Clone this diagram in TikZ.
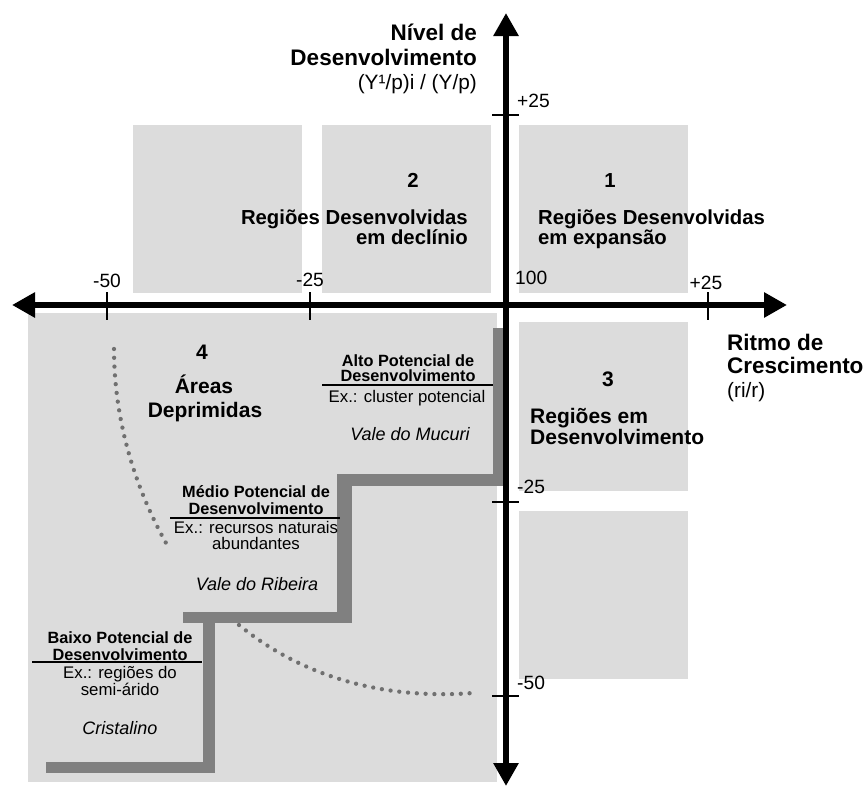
\documentclass[tikz,border=0pt]{standalone}
\usepackage{fontspec}
\setmainfont{Liberation Sans}
\usetikzlibrary{arrows.meta}
\definecolor{boxgrey}{HTML}{DCDCDC}
\definecolor{stairgrey}{HTML}{808080}
\definecolor{dotgrey}{HTML}{707070}
\tikzset{
  big/.style={inner sep=0pt,font=\fontsize{21}{22}\selectfont\bfseries},
  quad/.style={inner sep=0pt,font=\fontsize{20.3}{22}\selectfont\bfseries},
  axt/.style={inner sep=0pt,font=\fontsize{22.5}{24}\selectfont\bfseries},
  axr/.style={inner sep=0pt,font=\fontsize{20.8}{22}\selectfont},
  smb/.style={inner sep=0pt,font=\fontsize{16.3}{17}\selectfont\bfseries},
  sm/.style={inner sep=0pt,font=\fontsize{16.8}{17}\selectfont},
  ital/.style={inner sep=0pt,font=\fontsize{18}{19}\selectfont\itshape},
  ticklab/.style={inner sep=0pt,font=\fontsize{19.2}{20}\selectfont},
  region/.style={fill=boxgrey,draw=none},
  stair/.style={fill=stairgrey,draw=none},
  dotline/.style={draw=dotgrey,line width=4.3pt,line cap=round,dash pattern=on 0pt off 8.8pt},
  axis/.style={line width=6.5pt,{Triangle[length=23pt,width=24pt]}-{Triangle[length=23pt,width=24pt]}},
  tickmark/.style={line width=2pt},
  sepline/.style={line width=1.8pt}
}
\begin{document}
\begin{tikzpicture}[x=1pt,y=-1pt]
\useasboundingbox (0,0) rectangle (864,787);
% grey regions
\path[region] (133,125) rectangle (302,293);
\path[region] (322,125) rectangle (491,293);
\path[region] (519,125) rectangle (688,293);
\path[region] (519,322) rectangle (688,491);
\path[region] (519,511) rectangle (688,679);
\path[region] (28,313) rectangle (497,782);
% staircase
\path[stair] (493,328) rectangle (505,486);
\path[stair] (337,474) rectangle (505,486);
\path[stair] (337,474) rectangle (352,623);
\path[stair] (183,612) rectangle (352,623);
\path[stair] (203,612) rectangle (215,773);
\path[stair] (46,762) rectangle (215,773);
% dotted curves
\coordinate (c1s) at (114,349);
\coordinate (c1e) at (170,550);
\coordinate (c2s) at (239,625);
\coordinate (c2e) at (473,693);
\draw[dotline] (c1s) .. controls (114,420) and (135,490) .. (c1e);
\draw[dotline] (c2s) .. controls (300,675) and (380,700) .. (c2e);
% axes
\coordinate (xl) at (12,305);
\coordinate (xr) at (787,305);
\coordinate (yt) at (506,13);
\coordinate (yb) at (506,786);
\draw[axis] (xl) -- (xr);
\draw[axis] (yb) -- (yt);
% ticks
\draw[tickmark] (107,292) -- (107,320);
\draw[tickmark] (310,292) -- (310,320);
\draw[tickmark] (708,292) -- (708,320);
\draw[tickmark] (492,115) -- (519,115);
\draw[tickmark] (492,502) -- (519,502);
\draw[tickmark] (492,696) -- (519,696);
% tick labels
\node[ticklab,anchor=base] (tm50) at (107,287) {-50};
\node[ticklab,anchor=base] (tm25) at (310,286) {-25};
\node[ticklab,anchor=base] (tp25) at (706,289) {+25};
\node[ticklab,anchor=base west] (t100) at (515,284) {100};
\node[ticklab,anchor=base west] (vp25) at (517,107) {+25};
\node[ticklab,anchor=base west] (vm25) at (517,493) {-25};
\node[ticklab,anchor=base west] (vm50) at (517,689) {-50};
% axis titles
\node[axt,anchor=base east] (yl1) at (477,40) {Nível de};
\node[axt,anchor=base east] (yl2) at (477,65) {Desenvolvimento};
\node[axr,anchor=base east] (yl3) at (477,89) {(Y¹/p)i / (Y/p)};
\node[axt,anchor=base west] (xl1) at (727,350) {Ritmo de};
\node[axt,anchor=base west] (xl2) at (727,373) {Crescimento};
\node[axr,anchor=base west] (xl3) at (727,397) {(ri/r)};
% quadrant 1
\node[quad,anchor=base] (q1n) at (610,187) {1};
\node[quad,anchor=base west] (q1a) at (538,224) {Regiões Desenvolvidas};
\node[quad,anchor=base west] (q1b) at (538,244) {em expansão};
% quadrant 2
\node[quad,anchor=base] (q2n) at (413,187) {2};
\node[quad,anchor=base east] (q2a) at (468,224) {Regiões Desenvolvidas};
\node[quad,anchor=base east] (q2b) at (468,244) {em declínio};
% quadrant 3
\node[big,anchor=base] (q3n) at (608,386) {3};
\node[big,anchor=base west] (q3a) at (530,423) {Regiões em};
\node[big,anchor=base west] (q3b) at (530,444) {Desenvolvimento};
% quadrant 4
\node[big,anchor=base] (q4n) at (202,359) {4};
\node[big,anchor=base] (q4a) at (204,393) {Áreas};
\node[big,anchor=base] (q4b) at (205,417) {Deprimidas};
% Alto
\node[smb,anchor=base] (a1) at (408,366) {Alto Potencial de};
\node[smb,anchor=base] (a2) at (408,381) {Desenvolvimento};
\draw[sepline] (322,385) -- (493,385);
\node[sm,anchor=base] (a3) at (407,402) {Ex.: cluster potencial};
\node[ital,anchor=base] (a4) at (410,440) {Vale do Mucuri};
% Medio
\node[smb,anchor=base] (m1) at (256,497) {Médio Potencial de};
\node[smb,anchor=base] (m2) at (256,514) {Desenvolvimento};
\draw[sepline] (170,518) -- (340,518);
\node[sm,anchor=base] (m3) at (256,533) {Ex.: recursos naturais};
\node[sm,anchor=base] (m4) at (256,549) {abundantes};
\node[ital,anchor=base] (m5) at (257,590) {Vale do Ribeira};
% Baixo
\node[smb,anchor=base] (b1) at (120,643) {Baixo Potencial de};
\node[smb,anchor=base] (b2) at (120,660) {Desenvolvimento};
\draw[sepline] (32,662) -- (202,662);
\node[sm,anchor=base] (b3) at (120,678) {Ex.: regiões do};
\node[sm,anchor=base] (b4) at (120,695) {semi-árido};
\node[ital,anchor=base] (b5) at (120,734) {Cristalino};
\end{tikzpicture}
\end{document}
